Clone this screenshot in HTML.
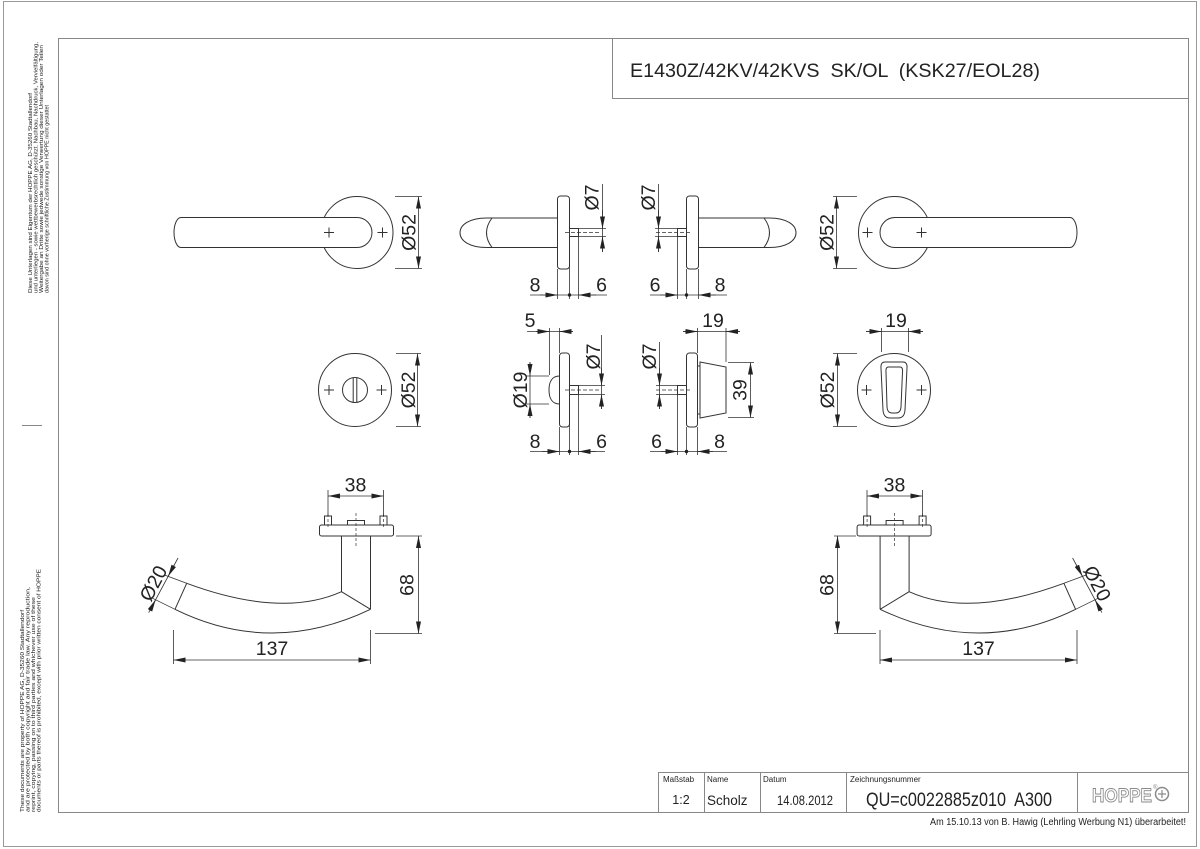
<!DOCTYPE html>
<html><head><meta charset="utf-8"><style>
html,body{margin:0;padding:0;background:#fff;}
svg{display:block;}
text{font-family:"Liberation Sans",Arial,sans-serif;fill:#222;}
</style></head><body>
<svg width="1200" height="849" viewBox="0 0 1200 849" xmlns="http://www.w3.org/2000/svg">
<defs>
<marker id="ae" viewBox="0 0 12 5" refX="12" refY="2.5" markerWidth="12" markerHeight="5" markerUnits="userSpaceOnUse" orient="auto"><path d="M0 0L12 2.5L0 5z" fill="#222"/></marker>
<marker id="as" viewBox="0 0 12 5" refX="0" refY="2.5" markerWidth="12" markerHeight="5" markerUnits="userSpaceOnUse" orient="auto"><path d="M12 0L0 2.5L12 5z" fill="#222"/></marker>
</defs>

<!-- frames -->
<rect x="3.5" y="1.5" width="1193" height="845" fill="none" stroke="#999"/>
<rect x="58.5" y="38.5" width="1130" height="774" fill="none" stroke="#888"/>
<path d="M612.5 38.5V98.5H1188.5" stroke="#888" fill="none"/>
<path d="M658.5 812.5V772.5H1188.5M704.5 772.5V812.5M760.5 772.5V812.5M846.5 772.5V812.5M1077.5 772.5V812.5" stroke="#888" fill="none"/>
<path d="M22 425.5H42" stroke="#888"/>

<!-- title -->
<text x="630" y="77" font-size="19.5" textLength="410" lengthAdjust="spacingAndGlyphs" xml:space="preserve" style="white-space:pre">E1430Z/42KV/42KVS  SK/OL  (KSK27/EOL28)</text>

<!-- margin texts -->
<g font-size="5.5" fill="#555">
<text transform="translate(32,293) rotate(-90)" textLength="200" lengthAdjust="spacingAndGlyphs">Diese Unterlagen sind Eigentum der HOPPE AG, D-35260 Stadtallendorf</text>
<text transform="translate(37.5,293) rotate(-90)" textLength="251" lengthAdjust="spacingAndGlyphs">und unterliegen - sowie wettbewerbsrechtlich geschützt. Nachbau, Nachdruck, Vervielfältigung,</text>
<text transform="translate(43,293) rotate(-90)" textLength="248" lengthAdjust="spacingAndGlyphs">Weitergabe an Dritte sowie jedwede sonstige Verwertung dieser Unterlagen oder Teilen</text>
<text transform="translate(48.5,293) rotate(-90)" textLength="188" lengthAdjust="spacingAndGlyphs">davon sind ohne vorherige schriftliche Zustimmung von HOPPE nicht gestattet</text>
<text transform="translate(24,812) rotate(-90)" textLength="202" lengthAdjust="spacingAndGlyphs">These documents are property of HOPPE AG, D-35260 Stadtallendorf</text>
<text transform="translate(29.5,812) rotate(-90)" textLength="225" lengthAdjust="spacingAndGlyphs">and are protected by both copyright and fair trade law. Any reproduction,</text>
<text transform="translate(35,812) rotate(-90)" textLength="215" lengthAdjust="spacingAndGlyphs">reprint, copying, passing on to third parties and whichever use of these</text>
<text transform="translate(40.5,812) rotate(-90)" textLength="243" lengthAdjust="spacingAndGlyphs">documents or parts thereof is prohibited, except with prior written consent of HOPPE</text>
</g>

<!-- ===== drawing geometry ===== -->
<g stroke="#333" stroke-width="1" fill="none">
<!-- Row1 left front -->
<circle cx="357" cy="232.5" r="36" fill="#fff"/>
<path d="M357 217.5H181A7 15 0 0 0 181 247.5H357A15 15 0 0 0 357 217.5Z" fill="#fff"/>
<path d="M324 232.5h10M329 227.5v10M377.5 232.5h10M382.5 227.5v10"/>
<!-- Row1 right front -->
<circle cx="894.5" cy="232.5" r="36" fill="#fff"/>
<path d="M895 217.5H1070A7 15 0 0 1 1070 247.5H895A15 15 0 0 1 895 217.5Z" fill="#fff"/>
<path d="M862.5 232.5h10M867.5 227.5v10M916.5 232.5h10M921.5 227.5v10"/>
<!-- Row1 side left -->
<path d="M557 218H487C469 218 460 225 460 232.75C460 240.5 469 247.5 487 247.5H557" fill="#fff"/>
<path d="M492 218Q481 232.75 492 247.5"/>
<rect x="557.5" y="196" width="12" height="73" rx="3" fill="#fff"/>
<rect x="569.5" y="228.5" width="9" height="8"/>
<!-- Row1 side right -->
<path d="M698 218H769C787 218 796 225 796 232.75C796 240.5 787 247.5 769 247.5H698" fill="#fff"/>
<path d="M764 218Q775 232.75 764 247.5"/>
<rect x="686.5" y="196" width="12" height="73" rx="3" fill="#fff"/>
<rect x="677.5" y="228.5" width="9" height="8"/>
<!-- Row2 WC front -->
<circle cx="355" cy="390" r="36.5"/>
<circle cx="355" cy="390" r="12.5"/>
<path d="M353.2 377.7V402.3M356.8 377.7V402.3"/>
<path d="M324 390h10M329 385v10M376.5 390h10M381.5 385v10"/>
<!-- Row2 WC side -->
<rect x="559.5" y="353" width="10" height="74" rx="3"/>
<path d="M559.5 376C552 376 549 382 549 390C549 398 552 404 559.5 404"/>
<rect x="569.5" y="385.5" width="9" height="9"/>
<!-- Row2 lock side -->
<rect x="686.5" y="353" width="11" height="74" rx="3"/>
<path d="M700 362L726 367V413L700 418Z"/>
<path d="M697.5 366H700M697.5 414H700"/>
<rect x="677.5" y="385.5" width="9" height="9"/>
<!-- Row2 right front -->
<circle cx="894" cy="390" r="36.5"/>
<path d="M885 362H903Q907.5 362 907 368L905 410Q904.5 418 898 418H890Q883.5 418 883 410L881 368Q880.5 362 885 362Z"/>
<path d="M888.5 367H900Q903 367 902.5 372L901 407Q900.5 413 896 413H892Q887.5 413 887 407L886 372Q885.5 367 888.5 367Z"/>
<path d="M861.5 390h10M866.5 385v10M916.5 390h10M921.5 385v10"/>
</g>

<!-- Row3 left lever -->
<g stroke="#333" stroke-width="1" fill="none">
<rect x="319.5" y="525" width="74" height="11" rx="2" fill="#fff"/>
<rect x="324.5" y="516" width="7" height="9"/>
<rect x="380" y="516" width="7" height="9"/>
<rect x="347.5" y="520.5" width="17" height="4.5"/>
<path d="M356 513V546M328 514V527M383.5 514V527" stroke-width="0.7" stroke-dasharray="3 2"/>
<path d="M341.5 536V591.7M370.5 536V609.3M341.5 591.7L370.5 609.3"/>
<path d="M341.5 591.7Q281.9 618.5 186.7 583.3"/>
<path d="M370.5 609.3Q271.25 656.7 175 609.3"/>
<path d="M186.7 583.3L175 609.3"/>
<path d="M186.7 583.3L165.1 575.3M175 609.3L152.6 598.3" stroke-width="0.8"/>
<path d="M178 558L148.7 612.6" stroke-width="0.8"/>
<line x1="174.2" y1="565" x2="168.1" y2="576.4" stroke-width="0.8" marker-end="url(#ae)"/>
<line x1="149.7" y1="610.9" x2="155.6" y2="599.8" stroke-width="0.8" marker-end="url(#ae)"/>
</g>
<!-- Row3 right lever (mirror) -->
<g transform="matrix(-1 0 0 1 1250.6 0)" stroke="#333" stroke-width="1" fill="none">
<rect x="319.5" y="525" width="74" height="11" rx="2" fill="#fff"/>
<rect x="324.5" y="516" width="7" height="9"/>
<rect x="380" y="516" width="7" height="9"/>
<rect x="347.5" y="520.5" width="17" height="4.5"/>
<path d="M356 513V546M328 514V527M383.5 514V527" stroke-width="0.7" stroke-dasharray="3 2"/>
<path d="M341.5 536V591.7M370.5 536V609.3M341.5 591.7L370.5 609.3"/>
<path d="M341.5 591.7Q281.9 618.5 186.7 583.3"/>
<path d="M370.5 609.3Q271.25 656.7 175 609.3"/>
<path d="M186.7 583.3L175 609.3"/>
<path d="M186.7 583.3L165.1 575.3M175 609.3L152.6 598.3" stroke-width="0.8"/>
<path d="M178 558L148.7 612.6" stroke-width="0.8"/>
<line x1="174.2" y1="565" x2="168.1" y2="576.4" stroke-width="0.8" marker-end="url(#ae)"/>
<line x1="149.7" y1="610.9" x2="155.6" y2="599.8" stroke-width="0.8" marker-end="url(#ae)"/>
</g>

<!-- ===== dimension lines ===== -->
<g stroke="#333" stroke-width="0.8" fill="none">
<path d="M565 232.5H600M656 232.5H690M565 390H600M656 390H690" stroke-dasharray="4 2" stroke-width="0.7"/>

<path d="M395 196.5H422M395 268.5H422"/>
<line x1="418.5" y1="196.5" x2="418.5" y2="268.5" marker-start="url(#as)" marker-end="url(#ae)"/>
<path d="M833 196.5H857M833 268.5H857"/>
<line x1="836.5" y1="196.5" x2="836.5" y2="268.5" marker-start="url(#as)" marker-end="url(#ae)"/>

<path d="M578.5 228.5H606M578.5 236.5H606M602.5 184V252"/>
<line x1="602.5" y1="210" x2="602.5" y2="228.5" marker-end="url(#ae)"/>
<line x1="602.5" y1="252" x2="602.5" y2="236.5" marker-end="url(#ae)"/>
<path d="M557.5 269V299M569.5 237V299M578.5 237V299M530 295H607"/>
<line x1="540" y1="295" x2="557.5" y2="295" marker-end="url(#ae)"/>
<line x1="596" y1="295" x2="578.5" y2="295" marker-end="url(#ae)"/>

<path d="M655 228.5H677.5M655 236.5H677.5M658.5 184V252"/>
<line x1="658.5" y1="210" x2="658.5" y2="228.5" marker-end="url(#ae)"/>
<line x1="658.5" y1="252" x2="658.5" y2="236.5" marker-end="url(#ae)"/>
<path d="M677.5 237V299M686.5 269V299M698.5 269V299M650 295H727"/>
<line x1="660" y1="295" x2="677.5" y2="295" marker-end="url(#ae)"/>
<line x1="716" y1="295" x2="698.5" y2="295" marker-end="url(#ae)"/>

<path d="M396 353.5H421M396 426.5H421"/>
<line x1="417.5" y1="353.5" x2="417.5" y2="426.5" marker-start="url(#as)" marker-end="url(#ae)"/>

<path d="M578.5 385.5H605M578.5 394.5H605M601.5 335V409"/>
<line x1="601.5" y1="368" x2="601.5" y2="385.5" marker-end="url(#ae)"/>
<line x1="601.5" y1="409" x2="601.5" y2="394.5" marker-end="url(#ae)"/>
<path d="M526 376H549M526 404H549M530 362V418"/>
<line x1="530" y1="362" x2="530" y2="376" marker-end="url(#ae)"/>
<line x1="530" y1="418" x2="530" y2="404" marker-end="url(#ae)"/>
<path d="M549.5 328V375M559.5 328V353M527 331.5H573"/>
<line x1="536" y1="331.5" x2="549.5" y2="331.5" marker-end="url(#ae)"/>
<line x1="573" y1="331.5" x2="559.5" y2="331.5" marker-end="url(#ae)"/>
<path d="M559.5 427V455M569.5 395V455M578.5 395V455M530 451.5H605"/>
<line x1="542" y1="451.5" x2="559.5" y2="451.5" marker-end="url(#ae)"/>
<line x1="596" y1="451.5" x2="578.5" y2="451.5" marker-end="url(#ae)"/>

<path d="M656 385.5H677.5M656 394.5H677.5M659.5 342V409"/>
<line x1="659.5" y1="368" x2="659.5" y2="385.5" marker-end="url(#ae)"/>
<line x1="659.5" y1="409" x2="659.5" y2="394.5" marker-end="url(#ae)"/>
<path d="M697.5 328V353M726 328V362M683 331.5H740"/>
<line x1="683" y1="331.5" x2="697.5" y2="331.5" marker-end="url(#ae)"/>
<line x1="740" y1="331.5" x2="726" y2="331.5" marker-end="url(#ae)"/>
<path d="M728 362.5H754M728 417.5H754"/>
<line x1="750.5" y1="362.5" x2="750.5" y2="417.5" marker-start="url(#as)" marker-end="url(#ae)"/>
<path d="M677.5 395V455M686.5 427V455M697.5 427V455M650 451.5H727"/>
<line x1="661" y1="451.5" x2="677.5" y2="451.5" marker-end="url(#ae)"/>
<line x1="713" y1="451.5" x2="697.5" y2="451.5" marker-end="url(#ae)"/>

<path d="M833 353.5H857M833 426.5H857"/>
<line x1="837.5" y1="353.5" x2="837.5" y2="426.5" marker-start="url(#as)" marker-end="url(#ae)"/>
<path d="M881.5 328V352M908.5 328V352M866 331.5H923"/>
<line x1="866" y1="331.5" x2="881.5" y2="331.5" marker-end="url(#ae)"/>
<line x1="923" y1="331.5" x2="908.5" y2="331.5" marker-end="url(#ae)"/>

<path d="M328 490V516M383.5 490V516"/>
<line x1="328" y1="496" x2="383.5" y2="496" marker-start="url(#as)" marker-end="url(#ae)"/>
<path d="M396 536H422M375 633.5H422"/>
<line x1="418.5" y1="536" x2="418.5" y2="633.5" marker-start="url(#as)" marker-end="url(#ae)"/>
<path d="M173.5 630V664M370.5 630V664"/>
<line x1="173.5" y1="660" x2="370.5" y2="660" marker-start="url(#as)" marker-end="url(#ae)"/>

<path d="M867 490V516M922.5 490V516"/>
<line x1="867" y1="496" x2="922.5" y2="496" marker-start="url(#as)" marker-end="url(#ae)"/>
<path d="M834 536H856M834 633.5H876"/>
<line x1="837.5" y1="536" x2="837.5" y2="633.5" marker-start="url(#as)" marker-end="url(#ae)"/>
<path d="M880 630V664M1077 630V664"/>
<line x1="880" y1="660" x2="1077" y2="660" marker-start="url(#as)" marker-end="url(#ae)"/>
</g>

<g fill="#222">
<circle cx="569.5" cy="295" r="1.7"/>
<circle cx="686.5" cy="295" r="1.7"/>
<circle cx="569.5" cy="451.5" r="1.7"/>
<circle cx="686.5" cy="451.5" r="1.7"/>
</g>

<g font-size="19.5" text-anchor="middle">
<text transform="translate(408.5,232.5) rotate(-90)" dy="0.35em">Ø52</text>
<text transform="translate(826.5,232.5) rotate(-90)" dy="0.35em">Ø52</text>
<text transform="translate(591.5,197.5) rotate(-90)" dy="0.35em">Ø7</text>
<text transform="translate(648,197.5) rotate(-90)" dy="0.35em">Ø7</text>
<text x="535" y="291.5">8</text>
<text x="601.5" y="291.5">6</text>
<text x="655" y="291.5">6</text>
<text x="720" y="291.5">8</text>

<text transform="translate(408,390) rotate(-90)" dy="0.35em">Ø52</text>
<text transform="translate(593,356.5) rotate(-90)" dy="0.35em">Ø7</text>
<text transform="translate(520,390) rotate(-90)" dy="0.35em">Ø19</text>
<text x="530" y="327">5</text>
<text x="535" y="448">8</text>
<text x="601.5" y="448">6</text>
<text transform="translate(649,356.5) rotate(-90)" dy="0.35em">Ø7</text>
<text x="713" y="327">19</text>
<text transform="translate(739.5,390) rotate(-90)" dy="0.35em">39</text>
<text x="656.5" y="448">6</text>
<text x="719.5" y="448">8</text>
<text transform="translate(827,390) rotate(-90)" dy="0.35em">Ø52</text>
<text x="896" y="327">19</text>

<text x="355.5" y="491.5">38</text>
<text transform="translate(406.5,585) rotate(-90)" dy="0.35em">68</text>
<text x="272" y="655">137</text>
<text transform="translate(153.2,583.3) rotate(-62)" dy="0.35em">Ø20</text>

<text x="894.5" y="491.5">38</text>
<text transform="translate(826.5,585) rotate(-90)" dy="0.35em">68</text>
<text x="978.5" y="655">137</text>
<text transform="translate(1097.4,583.3) rotate(62)" dy="0.35em">Ø20</text>
</g>

<g fill="#333">
<text x="663" y="782" font-size="8">Maßstab</text>
<text x="707" y="782" font-size="8">Name</text>
<text x="763" y="782" font-size="8">Datum</text>
<text x="850" y="782" font-size="8">Zeichnungsnummer</text>
<text x="681" y="804" font-size="12.5" text-anchor="middle">1:2</text>
<text x="707" y="805" font-size="13.5">Scholz</text>
<text x="777" y="805" font-size="13.5" textLength="56" lengthAdjust="spacingAndGlyphs">14.08.2012</text>
<text x="866" y="806" font-size="19" textLength="186" lengthAdjust="spacingAndGlyphs" xml:space="preserve" style="white-space:pre">QU=c0022885z010  A300</text>
</g>
<text x="1092" y="802" font-size="19" font-weight="bold" textLength="60" lengthAdjust="spacingAndGlyphs" style="fill:#fff;stroke:#8a8a8a;stroke-width:0.9">HOPPE</text>
<text x="1153" y="789" font-size="6" style="fill:#8a8a8a">®</text>
<circle cx="1162" cy="794" r="6.5" fill="none" stroke="#8a8a8a" stroke-width="1.5"/>
<path d="M1158 794h8M1162 790v8" stroke="#8a8a8a" stroke-width="1.2"/>
<text x="1186" y="825" font-size="10" text-anchor="end" textLength="256" lengthAdjust="spacingAndGlyphs" fill="#333">Am 15.10.13 von B. Hawig (Lehrling Werbung N1) überarbeitet!</text>
</svg>
</body></html>
